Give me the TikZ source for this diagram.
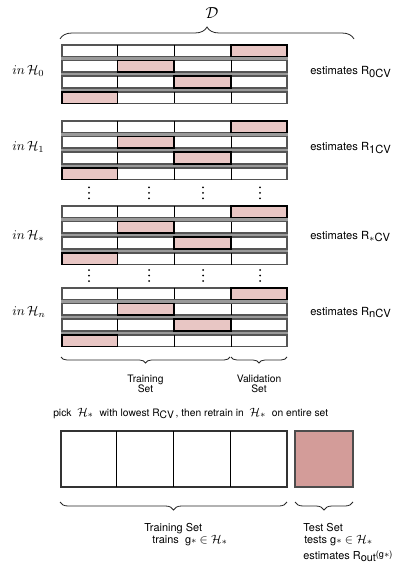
\documentclass[tikz,border=0pt]{standalone}
\usepackage[no-math]{fontspec}
\setmainfont{TeX Gyre Heros}
\usetikzlibrary{decorations.pathreplacing}
\definecolor{pinkL}{HTML}{E8C6C4}
\definecolor{pinkD}{HTML}{D39C99}
\definecolor{rowedge}{HTML}{555555}
\definecolor{rowgap}{HTML}{9A9A9A}
\newcommand{\mysub}[1]{\raisebox{-2.2pt}{#1}}
\newcommand{\lowstar}{{\scriptsize$\ast$}}
\newcommand{\hbigmath}[1]{{\fontsize{9.5}{10}\selectfont$#1$}}
\begin{document}
\begin{tikzpicture}[x=0.75pt,y=-0.75pt,
  lbl/.style={font=\fontsize{7.7}{9}\selectfont, inner sep=0pt},
  elbl/.style={font=\fontsize{8.4}{10}\selectfont, inner sep=0pt},
  blbl/.style={font=\fontsize{8.2}{10}\selectfont, inner sep=0pt},
  hlbl/.style={font=\fontsize{10}{12}\selectfont, inner sep=0pt},
  brc/.style={decorate, decoration={brace, amplitude=#1}, line width=0.6pt, draw=black!85},
  mbrc/.style={decorate, decoration={brace, mirror, amplitude=#1}, line width=0.6pt, draw=black!85},
  rowbox/.style={draw=rowedge, fill=white, line width=1.2pt},
  hicell/.style={draw=black, fill=pinkL, line width=1.1pt},
  divline/.style={draw=black, line width=0.5pt},
  bigbox/.style={draw=black!80, line width=1.5pt},
  dotmark/.style={fill=black}]
\useasboundingbox (0,0) rectangle (401,574);
\fill[white] (0,0) rectangle (401,574);
% top brace and label
\draw[brc=9pt] (60,39) -- (354,39);
\node[inner sep=0pt, font=\fontsize{12.5}{14}\selectfont] (D) at (212,13) {$\mathcal{D}$};
% blocks
\foreach \T/\n/\bl [count=\b] in {44/0/75, 120/1/151, 205/\lowstar/239, 287/n/315}{
  \fill[rowgap] (61,{\T+1}) rectangle (288,{\T+3*15.7+12.3});
  \foreach \r in {0,1,2,3}{
    \draw[rowbox] (62,{\T+\r*15.7+0.8}) rectangle (287,{\T+\r*15.7+12.4});
    \foreach \xd in {117.5,174,231}{
      \draw[divline] (\xd,{\T+\r*15.7+0.8}) -- (\xd,{\T+\r*15.7+12.4});
    }
  }
  \foreach \r/\xa/\xb in {0/231/287, 1/117.5/174, 2/174/231, 3/62/117.5}{
    \draw[hicell] (\xa,{\T+\r*15.7+0.8}) rectangle (\xb,{\T+\r*15.7+12.4});
  }
  \node[elbl, anchor=base west] (est\b) at (310,\bl) {estimates R\mysub{\n CV}};
}
\node[hlbl, anchor=base west] (in1) at (12,75) {$in\,\mathcal{H}_0$};
\node[hlbl, anchor=base west] (in2) at (12,151) {$in\,\mathcal{H}_1$};
\node[hlbl, anchor=base west] (in3) at (12,239) {$in\,\mathcal{H}_*$};
\node[hlbl, anchor=base west] (in4) at (12,315) {$in\,\mathcal{H}_n$};
% vertical dots
\foreach \xd in {89,149,203,260}{
  \foreach \yd in {187.3,192.8,198.3,270,275.5,281}{
    \fill[dotmark] (\xd,\yd) circle (1.0);
  }
}
% braces under last block
\draw[mbrc=4.5pt] (61,357) -- (230,357);
\draw[mbrc=4.5pt] (231,357) -- (287,357);
\node[lbl, anchor=base] (tr1) at (145.5,382) {Training};
\node[lbl, anchor=base] (tr2) at (145.5,392.5) {Set};
\node[lbl, anchor=base] (va1) at (259,382) {Validation};
\node[lbl, anchor=base] (va2) at (259,392.5) {Set};
% pick line
\node[lbl, anchor=base west] (pick) at (53,416) {pick\ \ \hbigmath{\mathcal{H}_*}\ \ with lowest R\mysub{CV}\,, then retrain in\ \ \hbigmath{\mathcal{H}_*}\ \ on entire set};
% bottom boxes
\draw[bigbox] (61,431) rectangle (287,487);
\foreach \xd in {116.5,173,230}{
  \draw[divline] (\xd,431) -- (\xd,487);
}
\draw[bigbox, fill=pinkD, draw=black!70] (295,431) rectangle (353,487);
\draw[mbrc=6pt] (60,502) -- (287,502);
\draw[mbrc=6pt] (295,502) -- (353,502);
\node[blbl, anchor=base west] (ts1) at (144,531) {Training Set};
\node[blbl, anchor=base west] (ts2) at (152,543.5) {trains\ \ g\lowstar\ \hbigmath{\in\mathcal{H}_*}};
\node[blbl, anchor=base west] (te1) at (303,531) {Test Set};
\node[blbl, anchor=base west] (te2) at (304,543.5) {tests g\lowstar\ \hbigmath{\in\mathcal{H}_*}};
\node[blbl, anchor=base west] (te3) at (303,559) {estimates R\mysub{out}\raisebox{1pt}{\fontsize{6.8}{8}\selectfont(g\lowstar)}};
\end{tikzpicture}
\end{document}
